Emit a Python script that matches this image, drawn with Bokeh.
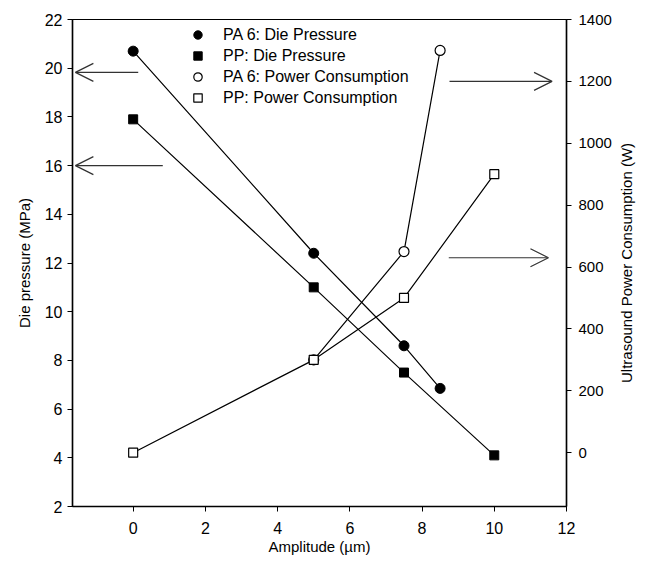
from bokeh.plotting import figure
from bokeh.layouts import row
from bokeh.models import (Range1d, LinearAxis, Legend, LegendItem, Arrow, OpenHead,
                          ColumnDataSource, FixedTicker)
from bokeh.embed import file_html
from bokeh.resources import INLINE

# ---- data ----
pa6_dp_x = [0, 5, 7.5, 8.5]
pa6_dp_y = [20.7, 12.4, 8.6, 6.85]
pp_dp_x = [0, 5, 7.5, 10]
pp_dp_y = [17.9, 11.0, 7.5, 4.1]
pa6_pw_x = [5, 7.5, 8.5]
pa6_pw_y = [300, 650, 1300]
pp_pw_x = [0, 5, 7.5, 10]
pp_pw_y = [0, 300, 500, 900]

x_ticks = [0, 2, 4, 6, 8, 10, 12]
left_ticks = [2, 4, 6, 8, 10, 12, 14, 16, 18, 20, 22]
right_ticks = [0, 200, 400, 600, 800, 1000, 1200, 1400]

# arrows (annotation positions in data units)
left_arrow_y = [19.83, 16.0]
left_arrow_x_start = [0.14, 0.82]
left_arrow_x_end = [-1.6, -1.6]
right_arrow_y = [1200, 630]
right_arrow_x_start = [8.76, 8.74]
right_arrow_x_end = [11.6, 11.5]

labels = ["PA 6: Die Pressure", "PP: Die Pressure",
          "PA 6: Power Consumption", "PP: Power Consumption"]
right_title = "Ultrasound Power Consumption (W)"

FONT = "Liberation Sans"
FS = "16px"
AFS = "15px"

X_MIN, X_MAX = -1.68, 12
Y_MIN, Y_MAX = 2, 22

p = figure(width=614, height=557, output_backend="svg", toolbar_location=None,
           x_range=Range1d(X_MIN, X_MAX), y_range=Range1d(Y_MIN, Y_MAX),
           min_border_left=72, min_border_right=46, min_border_top=19,
           min_border_bottom=50)
p.extra_y_ranges = {"power": Range1d(-174, 1400)}
p.grid.visible = False
p.outline_line_color = "black"
p.outline_line_width = 1.2
p.background_fill_color = "white"
p.border_fill_color = "white"

raxis = LinearAxis(y_range_name="power")
p.add_layout(raxis, "right")

for ax in [p.xaxis[0], p.yaxis[0], raxis]:
    ax.axis_line_color = "black"
    ax.axis_line_width = 1.5
    ax.major_tick_line_color = "black"
    ax.major_tick_in = 0
    ax.major_tick_out = 5
    ax.minor_tick_line_color = None
    ax.major_label_text_font = FONT
    ax.major_label_text_font_size = FS
    ax.major_label_text_color = "black"
    ax.axis_label_text_font = FONT
    ax.axis_label_text_font_size = AFS
    ax.axis_label_text_font_style = "normal"
    ax.axis_label_text_color = "black"

p.xaxis[0].ticker = FixedTicker(ticks=x_ticks)
p.yaxis[0].ticker = FixedTicker(ticks=left_ticks)
raxis.ticker = FixedTicker(ticks=right_ticks)
raxis.major_label_text_font_size = "15px"

p.xaxis[0].axis_label = "Amplitude (µm)"
p.xaxis[0].major_label_standoff = 10
p.xaxis[0].axis_label_standoff = 1
p.yaxis[0].axis_label = "Die pressure (MPa)"
p.yaxis[0].major_label_standoff = 5
p.yaxis[0].axis_label_standoff = 9
raxis.major_label_standoff = 7

LW = 1.2
p.line(pa6_dp_x, pa6_dp_y, line_color="black", line_width=LW)
p.line(pp_dp_x, pp_dp_y, line_color="black", line_width=LW)
p.line(pa6_pw_x, pa6_pw_y, line_color="black", line_width=LW, y_range_name="power")
p.line(pp_pw_x, pp_pw_y, line_color="black", line_width=LW, y_range_name="power")

r1 = p.scatter(pa6_dp_x, pa6_dp_y, marker="circle", size=10, fill_color="black",
               line_color="black")
r2 = p.scatter(pp_dp_x, pp_dp_y, marker="square", size=9, fill_color="black",
               line_color="black")
r3 = p.scatter(pa6_pw_x, pa6_pw_y, marker="circle", size=10, fill_color="white",
               line_color="black", line_width=1.2, y_range_name="power")
r4 = p.scatter(pp_pw_x, pp_pw_y, marker="square", size=9, fill_color="white",
               line_color="black", line_width=1.2, y_range_name="power")

# arrows
la = ColumnDataSource(dict(xs=left_arrow_x_start, xe=left_arrow_x_end,
                           ys=left_arrow_y, ye=left_arrow_y))
ra = ColumnDataSource(dict(xs=right_arrow_x_start, xe=right_arrow_x_end,
                           ys=right_arrow_y, ye=right_arrow_y))
ARC = "#333333"
p.add_layout(Arrow(source=la, x_start="xs", y_start="ys", x_end="xe", y_end="ye",
                   line_color=ARC, line_width=1.2,
                   end=OpenHead(size=18, line_color=ARC, line_width=1.2)))
p.add_layout(Arrow(source=ra, x_start="xs", y_start="ys", x_end="xe", y_end="ye",
                   line_color=ARC, line_width=1.2, y_range_name="power",
                   end=OpenHead(size=18, line_color=ARC, line_width=1.2)))

legend = Legend(items=[LegendItem(label=labels[0], renderers=[r1]),
                       LegendItem(label=labels[1], renderers=[r2]),
                       LegendItem(label=labels[2], renderers=[r3]),
                       LegendItem(label=labels[3], renderers=[r4])],
                location=(115, 398), padding=0, spacing=0, margin=0,
                glyph_width=21, glyph_height=21, label_height=21,
                label_standoff=15, border_line_color=None,
                background_fill_alpha=0,
                label_text_font=FONT, label_text_font_size=FS,
                label_text_color="black")
p.add_layout(legend, "center")

# narrow strip carrying the right-hand axis title (reads bottom-to-top)
p2 = figure(width=22, height=557, output_backend="svg", toolbar_location=None,
            x_range=Range1d(0, 1), y_range=Range1d(0, 1),
            min_border_left=20, min_border_right=0, min_border_top=19,
            min_border_bottom=50)
p2.outline_line_color = None
p2.grid.visible = False
p2.xaxis.visible = False
ya = p2.yaxis[0]
ya.ticker = FixedTicker(ticks=[])
ya.axis_line_color = None
ya.major_tick_line_color = None
ya.minor_tick_line_color = None
ya.major_label_text_font_size = "0px"
ya.axis_label = right_title
ya.axis_label_standoff = 0
ya.axis_label_text_font = FONT
ya.axis_label_text_font_size = AFS
ya.axis_label_text_font_style = "normal"
ya.axis_label_text_color = "black"

layout = row(p, p2, spacing=0)
open("out.html", "w").write(file_html(layout, INLINE))
